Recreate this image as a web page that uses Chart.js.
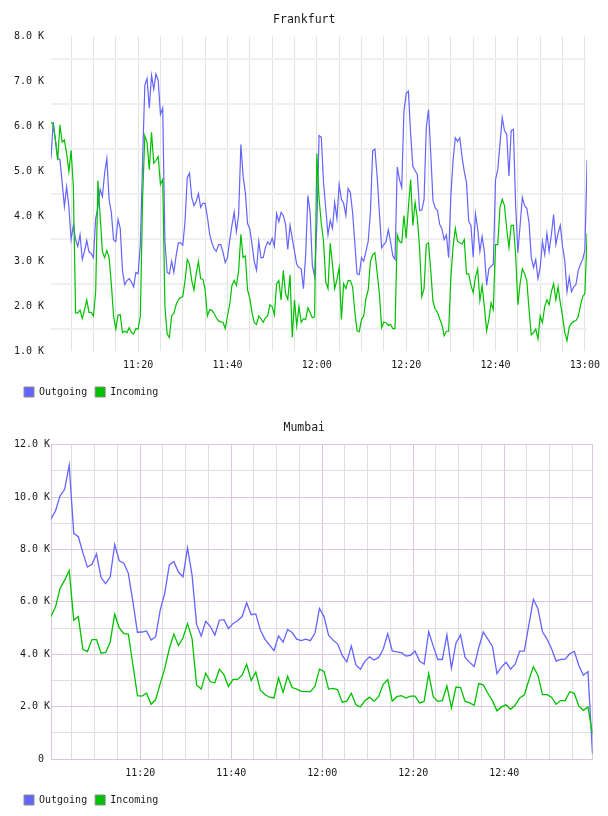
<!DOCTYPE html>
<html>
<head>
<meta charset="utf-8">
<title>Frankfurt / Mumbai traffic</title>
<script src="https://cdn.jsdelivr.net/npm/chart.js@4.4.1/dist/chart.umd.min.js"></script>
<style>
  body { margin: 0; background: #fff; }
  canvas { display: block; }
  .clip { width: 604px; overflow: hidden; }
</style>
</head>
<body>
<div class="clip"><canvas id="frankfurt" width="608" height="408"></canvas></div>
<canvas id="mumbai" width="608" height="408"></canvas>
<script>
// traffic in K, x in minutes after 11:00
var frankfurtStart = 0.5;   // 11:00:30, one sample every 30 s
var frankfurtStep = 0.5;
var frankfurtOut = [
  5.29, 6.1, 5.69, 5.29, 5.27, 4.75, 4.22, 4.66, 4.22, 3.48,
  3.80, 3.48, 3.33, 3.59, 3.04, 3.22, 3.46, 3.21, 3.17, 3.08,
  3.95, 4.20, 4.60, 4.44, 4.96, 5.29, 4.38, 4.09, 3.48, 3.44,
  3.93, 3.73, 2.79, 2.48, 2.57, 2.61, 2.54, 2.43, 2.75, 2.72,
  3.37, 5.25, 6.92, 7.07, 6.41, 7.14, 6.83, 7.17, 7.03, 6.27,
  6.41, 3.44, 2.75, 2.72, 3.0, 2.75, 3.12, 3.41, 3.41, 3.36,
  3.88, 4.86, 4.96, 4.42, 4.24, 4.33, 4.51, 4.20, 4.29, 4.29,
  3.99, 3.61, 3.41, 3.28, 3.22, 3.37, 3.37, 3.20, 2.97, 3.08,
  3.46, 3.80, 4.09, 3.66, 4.04, 5.6, 4.89, 4.53, 3.84, 3.72,
  3.37, 2.99, 2.8, 3.44, 3.08, 3.08, 3.31, 3.43, 3.37, 3.51,
  3.33, 4.06, 3.88, 4.09, 4.02, 3.82, 3.26, 3.80, 3.51, 3.22,
  2.93, 2.86, 2.83, 2.39, 3.15, 4.46, 4.09, 2.90, 2.66, 3.80,
  5.80, 5.76, 4.75, 4.17, 3.59, 3.91, 3.73, 4.31, 3.95, 4.71,
  4.38, 4.29, 4.02, 4.62, 4.53, 4.09, 3.41, 2.72, 2.70, 3.08,
  3.0, 3.22, 3.44, 4.09, 5.46, 5.50, 4.89, 4.09, 3.30, 3.37,
  3.44, 3.70, 3.44, 3.12, 3.04, 5.1, 4.82, 4.64, 6.34, 6.74,
  6.79, 5.83, 5.11, 5.02, 4.93, 4.13, 4.14, 4.37, 5.98, 6.38,
  5.40, 4.35, 4.19, 4.13, 3.82, 3.72, 3.48, 3.59, 3.08, 4.46,
  5.25, 5.75, 5.67, 5.75, 5.33, 5.0, 4.75, 3.89, 3.80, 3.09,
  4.06, 3.73, 3.22, 3.55, 3.22, 2.46, 2.83, 2.89, 2.93, 4.82,
  5.04, 5.62, 6.20, 5.91, 5.83, 4.9, 5.91, 5.94, 4.24, 3.19,
  3.8, 4.42, 4.24, 4.18, 3.86, 3.08, 2.86, 3.04, 2.61, 2.86,
  3.44, 3.15, 3.62, 3.22, 3.59, 4.04, 3.37, 3.62, 3.80, 3.33,
  3.01, 2.32, 2.65, 2.32, 2.43, 2.48, 2.79, 2.93, 3.04, 3.24,
  5.25
];
var frankfurtIn = [
  6.09, 6.05, 5.69, 5.25, 6.04, 5.65, 5.70, 5.40, 5.0, 5.47,
  4.67, 1.85, 1.85, 1.91, 1.72, 1.92, 2.14, 1.86, 1.86, 1.78,
  2.32, 4.8, 4.0, 3.22, 3.08, 3.24, 3.08, 2.50, 1.78, 1.49,
  1.80, 1.81, 1.41, 1.44, 1.41, 1.52, 1.41, 1.38, 1.50, 1.49,
  1.78, 4.38, 5.80, 5.65, 5.04, 5.87, 5.18, 5.25, 5.33, 4.71,
  4.82, 1.99, 1.38, 1.30, 1.78, 1.84, 2.03, 2.14, 2.19, 2.21,
  2.57, 3.04, 2.93, 2.57, 2.36, 2.72, 2.99, 2.61, 2.60, 2.36,
  1.78, 1.92, 1.91, 1.84, 1.74, 1.67, 1.65, 1.64, 1.50, 1.78,
  2.03, 2.46, 2.57, 2.46, 2.79, 3.6, 3.08, 3.12, 2.36, 2.17,
  1.85, 1.63, 1.59, 1.78, 1.72, 1.64, 1.74, 1.78, 2.03, 1.99,
  1.81, 2.50, 2.57, 2.14, 2.79, 2.28, 2.15, 2.7, 1.30, 2.14,
  1.56, 1.99, 1.64, 1.72, 1.70, 1.96, 1.86, 1.74, 1.76, 5.4,
  4.4, 3.84, 3.44, 2.54, 2.39, 3.4, 2.93, 2.39, 2.59, 2.86,
  1.7, 2.5, 2.39, 2.57, 2.57, 2.43, 1.88, 1.45, 1.43, 1.70,
  1.78, 2.17, 2.36, 2.99, 3.14, 3.19, 2.75, 2.28, 1.52, 1.64,
  1.63, 1.57, 1.59, 1.50, 1.50, 3.59, 3.44, 3.41, 4.02, 3.51,
  4.20, 4.82, 3.80, 4.31, 3.95, 3.30, 2.21, 2.39, 3.37, 3.41,
  2.79, 2.10, 1.93, 1.86, 1.72, 1.59, 1.34, 1.44, 1.44, 2.64,
  3.33, 3.73, 3.44, 3.41, 3.38, 3.48, 2.72, 2.72, 2.46, 2.30,
  2.64, 2.83, 2.12, 2.46, 1.99, 1.45, 1.70, 2.07, 1.92, 3.37,
  3.37, 4.20, 4.38, 4.24, 3.73, 3.3, 3.80, 3.80, 3.15, 2.03,
  2.5, 2.83, 2.72, 2.57, 1.92, 1.36, 1.41, 1.49, 1.27, 1.78,
  1.63, 1.99, 2.14, 2.03, 2.32, 2.50, 2.14, 2.43, 2.07, 1.78,
  1.41, 1.23, 1.54, 1.62, 1.66, 1.68, 1.76, 2.01, 2.21, 2.28,
  3.62
];
var frankfurtYTicks = [1, 1.5, 2, 2.5, 3, 3.5, 4, 4.5, 5, 5.5, 6, 6.5, 7, 7.5, 8];

var mumbaiStart = 0.4;      // 11:00:24, one sample a minute
var mumbaiStep = 1;
var mumbaiOut = [
  9.17, 9.48, 10.05, 10.3, 11.22, 8.62, 8.49, 7.88, 7.33, 7.44,
  7.83, 6.93, 6.70, 6.95, 8.19, 7.57, 7.48, 7.09, 6.0, 4.84,
  4.85, 4.89, 4.54, 4.67, 5.69, 6.33, 7.41, 7.54, 7.14, 6.96,
  8.06, 7.02, 5.14, 4.7, 5.26, 5.07, 4.73, 5.30, 5.32, 4.98,
  5.17, 5.28, 5.44, 5.97, 5.51, 5.54, 4.93, 4.58, 4.36, 4.14,
  4.70, 4.46, 4.95, 4.83, 4.58, 4.52, 4.58, 4.52, 4.80, 5.75,
  5.44, 4.73, 4.54, 4.39, 3.96, 3.71, 4.31, 3.59, 3.43, 3.74,
  3.90, 3.78, 3.88, 4.19, 4.79, 4.13, 4.09, 4.06, 3.93, 3.96,
  4.12, 3.74, 3.62, 4.86, 4.31, 3.80, 3.80, 4.74, 3.47, 4.43,
  4.74, 3.88, 3.69, 3.53, 4.25, 4.85, 4.58, 4.31, 3.26, 3.51,
  3.69, 3.43, 3.62, 4.12, 4.12, 5.10, 6.10, 5.75, 4.86, 4.58,
  4.21, 3.74, 3.80, 3.81, 4.02, 4.11, 3.57, 3.20, 3.34, 0.2
];
var mumbaiIn = [
  5.44, 5.81, 6.52, 6.83, 7.2, 5.30, 5.44, 4.19, 4.10, 4.56,
  4.56, 4.04, 4.07, 4.46, 5.53, 5.01, 4.79, 4.77, 3.59, 2.42,
  2.40, 2.51, 2.09, 2.27, 2.88, 3.46, 4.21, 4.77, 4.33, 4.62,
  5.17, 4.6, 2.83, 2.67, 3.28, 2.95, 2.91, 3.43, 3.22, 2.77,
  3.04, 3.04, 3.20, 3.62, 3.0, 3.32, 2.63, 2.46, 2.36, 2.33,
  3.10, 2.54, 3.16, 2.73, 2.67, 2.58, 2.57, 2.57, 2.77, 3.43,
  3.34, 2.67, 2.70, 2.64, 2.17, 2.21, 2.51, 2.07, 1.99, 2.23,
  2.36, 2.21, 2.38, 2.85, 3.03, 2.21, 2.38, 2.42, 2.33, 2.40,
  2.40, 2.14, 2.20, 3.26, 2.38, 2.20, 2.23, 2.79, 1.95, 2.75,
  2.73, 2.20, 2.14, 2.05, 2.88, 2.83, 2.51, 2.23, 1.84, 1.99,
  2.07, 1.90, 2.05, 2.33, 2.44, 3.0, 3.53, 3.20, 2.46, 2.46,
  2.36, 2.09, 2.23, 2.23, 2.57, 2.51, 2.02, 1.86, 1.99, 0.94
];
var mumbaiYTicks = [0, 1, 2, 3, 4, 5, 6, 7, 8, 9, 10, 11, 12];

var BLUE = '#6464ff';
var GREEN = '#00c000';
var FONT = 'DejaVu Sans Mono';

Chart.defaults.font.family = FONT;
Chart.defaults.font.size = 10;
Chart.defaults.color = '#1a1a1a';

function hhmm(m) {
  var h = 11 + Math.floor(m / 60), mm = m % 60;
  return h + ':' + (mm < 10 ? '0' : '') + mm;
}

function points(start, step, values) {
  return values.map(function (v, i) { return {x: start + i * step, y: v}; });
}

function kLabel(v) {
  return v === 0 ? '0 ' : v.toFixed(1) + ' K';
}

function everyFive(min, max, withEdges) {
  var out = [];
  if (withEdges) out.push({value: min});
  for (var m = Math.ceil(min / 5) * 5; m <= max; m += 5) out.push({value: m});
  if (withEdges) out.push({value: max});
  return out;
}

// the y labels are clipped to the axis box, so the axis is kept wide;
// legend and title are moved back to where a 16px margin puts them
var boxIndent = {
  id: 'boxIndent',
  afterLayout: function (chart) {
    chart.legend.left += 10;
    chart.titleBlock.left += 10;
  }
};

function makeChart(id, o) {
  return new Chart(document.getElementById(id), {
    type: 'line',
    data: {
      datasets: [
        {label: 'Outgoing', data: points(o.start, o.step, o.out),
         borderColor: BLUE, backgroundColor: BLUE, order: 1},
        {label: 'Incoming', data: points(o.start, o.step, o.inc),
         borderColor: GREEN, backgroundColor: GREEN, order: 0}
      ]
    },
    plugins: [boxIndent],
    options: {
      responsive: false,
      animation: false,
      events: [],
      layout: {padding: {left: 6, right: 15.5, top: 0, bottom: 1}},
      elements: {
        line: {borderWidth: o.lineWidth, tension: 0},
        point: {radius: 0}
      },
      scales: {
        x: {
          type: 'linear',
          min: o.xMin,
          max: o.xMax,
          afterBuildTicks: function (axis) { axis.ticks = everyFive(o.xMin, o.xMax, o.framed); },
          grid: {drawTicks: false, color: o.xGrid, lineWidth: 1},
          border: {display: o.framed, color: o.major},
          ticks: {
            autoSkip: false, maxRotation: 0, padding: 8,
            callback: function (v) { return v % 20 === 0 ? hhmm(v) : ''; }
          }
        },
        y: {
          min: o.yMin,
          max: o.yMax,
          afterBuildTicks: function (axis) {
            axis.ticks = o.yTicks.map(function (v) { return {value: v}; });
          },
          afterFit: function (axis) { axis.width = 45; },
          grid: {drawTicks: false, color: o.yGrid, lineWidth: o.yGridWidth},
          border: {display: o.framed, color: o.major},
          ticks: {
            padding: o.yPad,
            callback: function (v) { return v % o.yLabelEvery === 0 ? kLabel(v) : ''; }
          }
        }
      },
      plugins: {
        title: {
          display: true, text: o.title, color: '#1a1a1a',
          font: {family: FONT, size: 11.5, weight: 'normal'},
          padding: {top: 13, bottom: 10}
        },
        legend: {
          position: 'bottom',
          align: 'start',
          labels: {
            boxWidth: 10, boxHeight: 10, padding: 8,
            font: {family: FONT, size: 10},
            sort: function (a, b) { return a.datasetIndex - b.datasetIndex; },
            generateLabels: function (chart) {
              return Chart.defaults.plugins.legend.labels.generateLabels(chart).map(function (l) {
                l.strokeStyle = '#8c8c8c';
                l.lineWidth = 1;
                return l;
              });
            }
          }
        },
        tooltip: {enabled: false}
      }
    }
  });
}

// Frankfurt: light grey grid, lines only at the half steps
makeChart('frankfurt', {
  title: 'Frankfurt',
  start: frankfurtStart, step: frankfurtStep,
  out: frankfurtOut, inc: frankfurtIn,
  xMin: 0.5, xMax: 120.5,
  yMin: 1, yMax: 8, yTicks: frankfurtYTicks, yLabelEvery: 1, yPad: 7,
  framed: false, major: '#e3e3e3',
  lineWidth: 1.2,
  xGrid: '#e3e3e3',
  yGrid: function (c) { return c.tick.value % 1 === 0 ? 'rgba(0,0,0,0)' : '#efefef'; },
  yGridWidth: 2
});

// Mumbai: framed, lilac major lines and grey minor lines
var LILAC = '#dcc6dc';
var MINOR = '#dedede';
makeChart('mumbai', {
  title: 'Mumbai',
  start: mumbaiStart, step: mumbaiStep,
  out: mumbaiOut, inc: mumbaiIn,
  xMin: 0.4, xMax: 119.4,
  yMin: 0, yMax: 12, yTicks: mumbaiYTicks, yLabelEvery: 2, yPad: 1,
  framed: true, major: LILAC,
  lineWidth: 1.3,
  xGrid: function (c) {
    var v = c.tick.value;
    return (v % 20 === 0 || v === 0.4 || v === 119.4) ? LILAC : MINOR;
  },
  yGrid: function (c) { return c.tick.value % 2 === 0 ? LILAC : MINOR; },
  yGridWidth: 1
});
</script>
</body>
</html>
